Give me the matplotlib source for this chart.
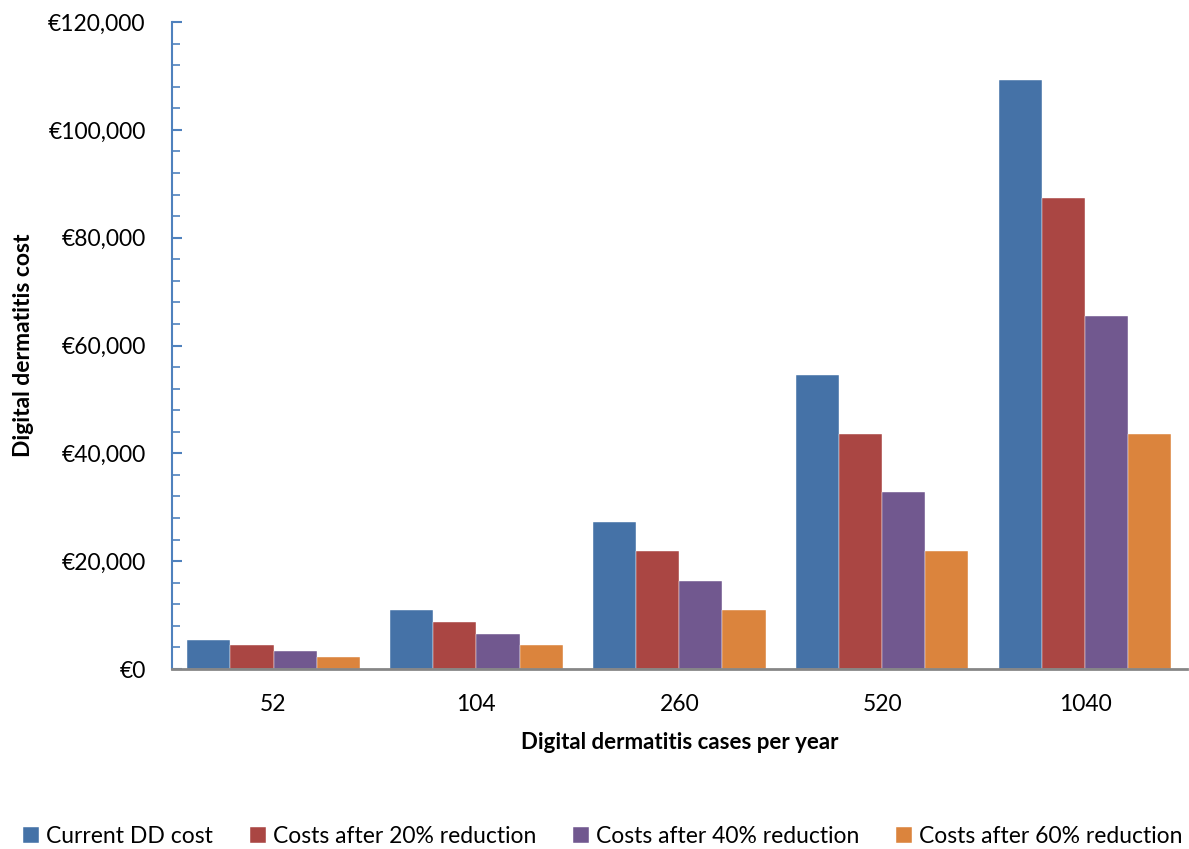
import numpy as np
import matplotlib
matplotlib.use('Agg')
import matplotlib.pyplot as plt
from matplotlib.ticker import MultipleLocator, FuncFormatter

plt.rcParams['font.family'] = ['Lato', 'DejaVu Sans']

# data
cases = ['52', '104', '260', '520', '1040']
series = ['Current DD cost', 'Costs after 20% reduction',
          'Costs after 40% reduction', 'Costs after 60% reduction']
current = [5460, 10920, 27300, 54600, 109200]
red20 = [4368, 8736, 21840, 43680, 87360]
red40 = [3276, 6552, 16380, 32760, 65520]
red60 = [2184, 4368, 10920, 21840, 43680]
colors = ['#4572A7', '#AA4643', '#71588F', '#DB843D']

fig = plt.figure(figsize=(11.89, 8.49), dpi=100)
ax = fig.add_axes([0.1447, 0.212, 0.8533, 0.762])

x = np.arange(len(cases))
w = 0.2125
for i, (vals, lab) in enumerate(zip([current, red20, red40, red60], series)):
    ax.bar(x + (i - 1.5) * w, vals, w, color=colors[i], label=lab,
           edgecolor='white', linewidth=0.3)

ax.set_xlim(-0.5, len(cases) - 0.5)
ax.set_ylim(0, 120000)
ax.set_xticks(x)
ax.set_xticklabels(cases)
ax.yaxis.set_major_locator(MultipleLocator(20000))
ax.yaxis.set_minor_locator(MultipleLocator(4000))
ax.yaxis.set_major_formatter(FuncFormatter(lambda v, p: '€{:,.0f}'.format(v)))

for s in ['top', 'right']:
    ax.spines[s].set_visible(False)
ax.spines['left'].set_color('#4F81BD')
ax.spines['left'].set_linewidth(1.5)
ax.spines['bottom'].set_color('#868686')
ax.spines['bottom'].set_linewidth(2)

ax.tick_params(axis='y', which='both', direction='in', color='#4F81BD',
               labelsize=16.5, pad=19)
ax.tick_params(axis='y', which='major', length=7, width=1.5)
ax.tick_params(axis='y', which='minor', length=6, width=1.2)
ax.tick_params(axis='x', length=0, labelsize=16.5, pad=18)

ax.set_xlabel('Digital dermatitis cases per year', fontsize=16,
              fontweight='bold', labelpad=12)
ax.set_ylabel('Digital dermatitis cost', fontsize=16.5,
              fontweight='bold', labelpad=10)

fig.legend(loc='lower center', bbox_to_anchor=(0.507, -0.022), ncol=4,
           frameon=False, fontsize=16.5, handlelength=0.7, handleheight=0.7,
           handletextpad=0.3, columnspacing=1.6)

fig.savefig('out.png', dpi=100)
